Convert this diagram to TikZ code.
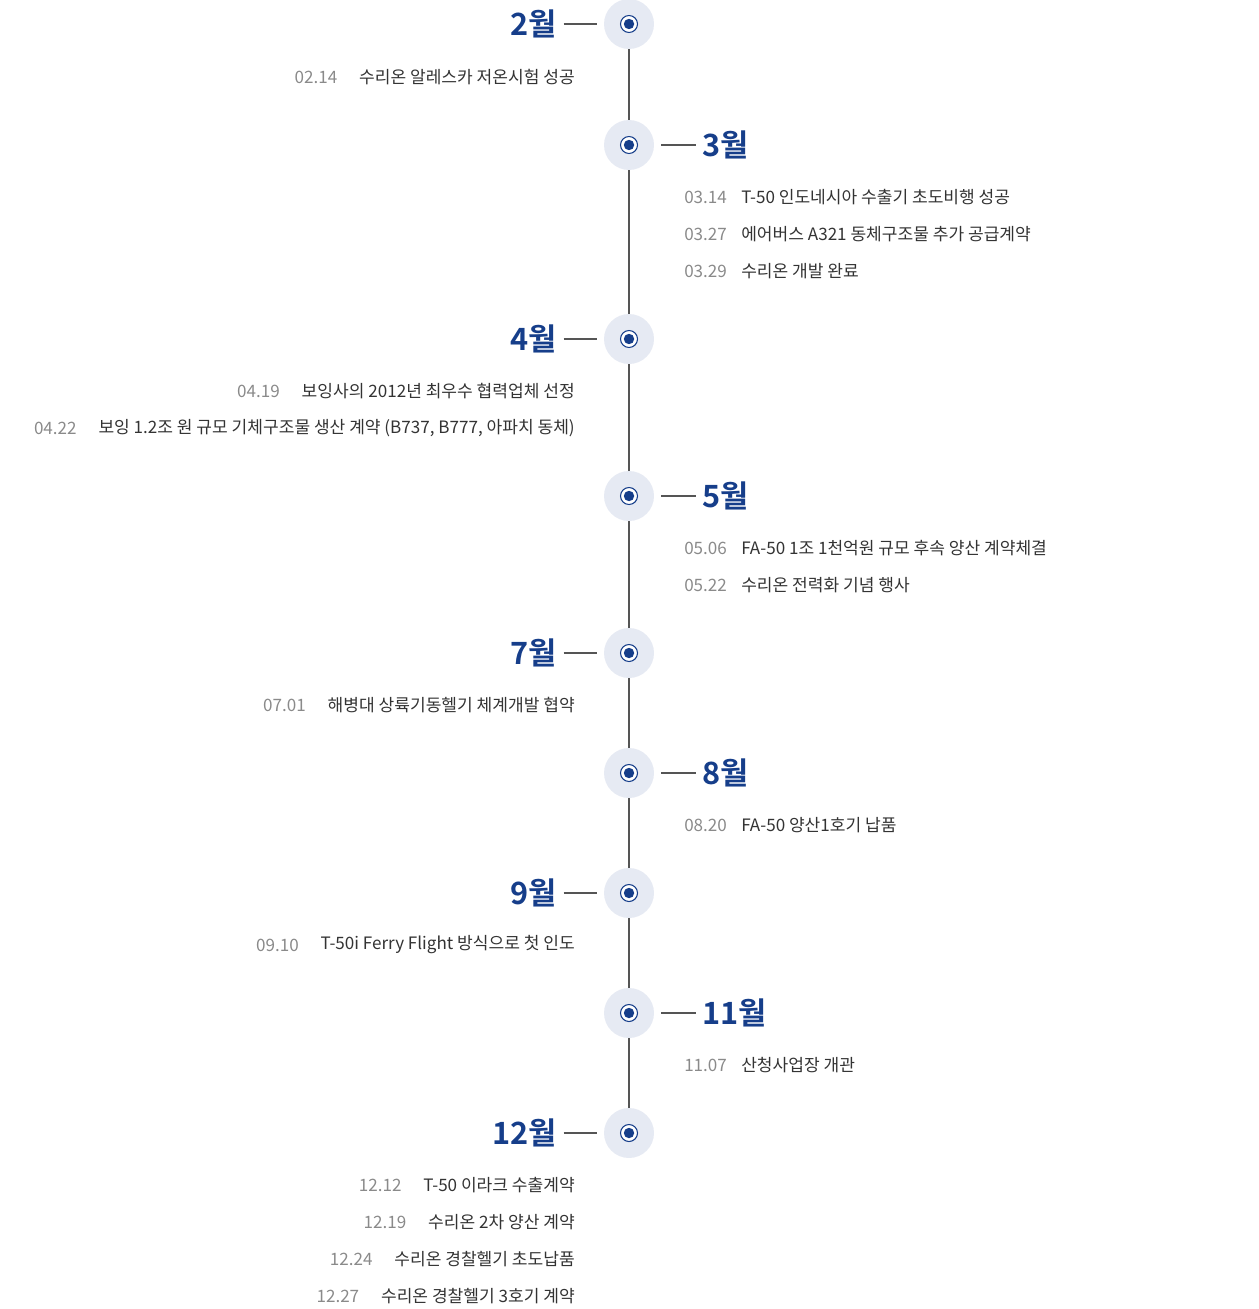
\documentclass[tikz,border=0pt]{standalone}
\usepackage{fontspec}
\setmainfont{Noto Sans CJK KR}
\newfontfamily\kbold{Noto Sans CJK KR Bold}
\definecolor{mblue}{HTML}{163E8A}
\definecolor{mbg}{HTML}{E6EAF3}
\definecolor{dgray}{HTML}{8A8A8A}
\definecolor{tgray}{HTML}{333333}
\definecolor{lgray}{HTML}{555555}
\begin{document}
\begin{tikzpicture}[x=0.75pt,y=-0.75pt,
  mon/.style={font=\kbold\fontsize{23}{26}\selectfont,text=mblue,inner sep=0},
  ent/.style={font=\fontsize{12.8}{14}\selectfont,text=tgray,inner sep=0},
  dat/.style={font=\fontsize{12.8}{14}\selectfont,text=dgray,inner sep=0},
  conn/.style={draw=lgray,line width=0.8pt}]
\useasboundingbox (0,0) rectangle (1258,1309);
\draw[lgray,line width=0.8pt] (629,24) -- (629,1133);
\foreach \n/\y in {m2/24,m3/145,m4/339,m5/496,m7/653,m8/773,m9/893,m11/1013,m12/1133}{
  \fill[mbg] (629,\y) circle (25);
  \draw[mblue,fill=white,line width=0.8pt] (629,\y) circle (8.5);
  \fill[mblue] (629,\y) circle (5.2);
  \coordinate (\n) at (629,\y);
}
% left months
\foreach \n/\t in {m2/2월,m4/4월,m7/7월,m9/9월,m12/12월}{
  \node[mon,anchor=east] (\n l) at ([xshift=-54]\n) {\t};
  \draw[conn] ([xshift=5]\n l.east) -- ([xshift=-24]\n);
}
\foreach \n/\t in {m3/3월,m5/5월,m8/8월,m11/11월}{
  \node[mon,anchor=west] (\n l) at ([xshift=55]\n) {\t};
  \draw[conn] ([xshift=-5]\n l.west) -- ([xshift=24]\n);
}
% left entries
\foreach \y/\d/\t [count=\i] in {77/02.14/수리온 알레스카 저온시험 성공,
 391/04.19/보잉사의 2012년 최우수 협력업체 선정,
 428/04.22/{보잉 1.2조 원 규모 기체구조물 생산 계약 (B737, B777, 아파치 동체)},
 705/07.01/해병대 상륙기동헬기 체계개발 협약,
 945/09.10/T-50i Ferry Flight 방식으로 첫 인도,
 1185/12.12/T-50 이라크 수출계약,
 1222/12.19/수리온 2차 양산 계약,
 1259/12.24/수리온 경찰헬기 초도납품,
 1296/12.27/수리온 경찰헬기 3호기 계약}{
  \node[ent,anchor=east] (l\i) at (575,\y) {\t};
  \node[dat,anchor=east] (ld\i) at ([xshift=-16]l\i.west) {\d};
}
% right entries
\foreach \y/\d/\t [count=\i] in {197/03.14/T-50 인도네시아 수출기 초도비행 성공,
 234/03.27/에어버스 A321 동체구조물 추가 공급계약,
 271/03.29/수리온 개발 완료,
 548/05.06/FA-50 1조 1천억원 규모 후속 양산 계약체결,
 585/05.22/수리온 전력화 기념 행사,
 825/08.20/FA-50 양산1호기 납품,
 1065/11.07/산청사업장 개관}{
  \node[dat,anchor=west] (rd\i) at (684,\y) {\d};
  \node[ent,anchor=west] (r\i) at (741,\y) {\t};
}
\end{tikzpicture}
\end{document}
